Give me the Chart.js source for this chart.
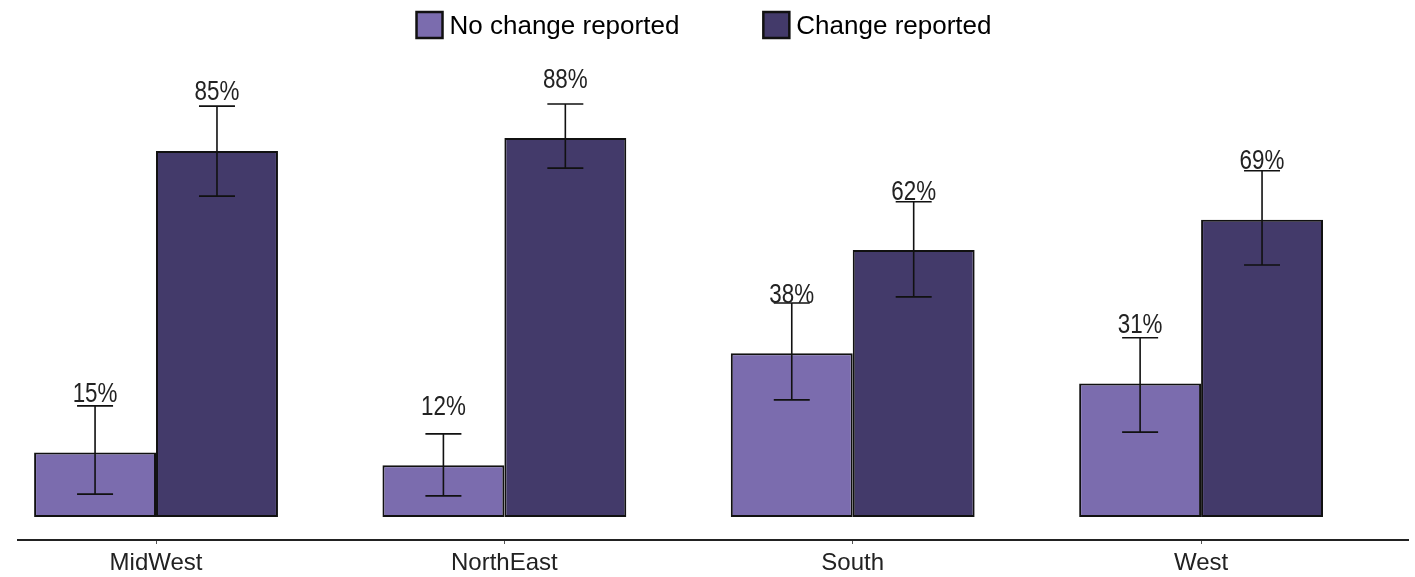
<!DOCTYPE html>
<html>
<head>
<meta charset="utf-8">
<script src="https://cdn.jsdelivr.net/npm/chart.js@4.4.1/dist/chart.umd.min.js"></script>
<style>
  body { margin: 0; background: #fff; }
  #wrap { width: 1415px; height: 577px; }
</style>
</head>
<body>
<div id="wrap"><canvas id="myChart"></canvas></div>
<script>
// regions and percentages
const regions = ['MidWest', 'NorthEast', 'South', 'West'];
const seriesNames = ['No change reported', 'Change reported'];
const noChange = [15, 12, 38, 31];
const change = [85, 88, 62, 69];
// error bar ends (%)
const noChangeLow = [5.3, 4.9, 27.2, 19.7];
const noChangeHigh = [25.8, 19.3, 49.7, 41.6];
const changeLow = [74.5, 81.0, 51.1, 58.5];
const changeHigh = [95.4, 95.9, 73.2, 80.4];

const lightPurple = '#7b6cae';
const darkPurple = '#433a6a';
const sans = '"Liberation Sans", Arial, sans-serif';

const errorBars = {
  id: 'errorBars',
  afterDatasetsDraw(chart) {
    const ctx = chart.ctx;
    const y = chart.scales.y;
    const lows = [noChangeLow, changeLow];
    const highs = [noChangeHigh, changeHigh];
    const vals = [noChange, change];
    ctx.save();
    chart.data.datasets.forEach(function (ds, d) {
      const meta = chart.getDatasetMeta(d);
      meta.data.forEach(function (bar, i) {
        const top = y.getPixelForValue(highs[d][i]);
        const bot = y.getPixelForValue(lows[d][i]);
        ctx.strokeStyle = '#111';
        ctx.lineWidth = 1.6;
        ctx.beginPath();
        ctx.moveTo(bar.x, top); ctx.lineTo(bar.x, bot);
        ctx.moveTo(bar.x - 18, top); ctx.lineTo(bar.x + 18, top);
        ctx.moveTo(bar.x - 18, bot); ctx.lineTo(bar.x + 18, bot);
        ctx.stroke();
        // narrow-looking label: squeeze a 28px face horizontally
        ctx.save();
        ctx.translate(bar.x, y.getPixelForValue(vals[d][i] + 13.5));
        ctx.scale(0.8, 1);
        ctx.fillStyle = '#222';
        ctx.font = '28px ' + sans;
        ctx.textAlign = 'center';
        ctx.textBaseline = 'middle';
        ctx.fillText(vals[d][i] + '%', 0, 0);
        ctx.restore();
      });
    });
    ctx.restore();
  }
};

// legend drawn by hand so the wide gap between the two items fits
const topLegend = {
  id: 'topLegend',
  afterDraw(chart) {
    const ctx = chart.ctx;
    const colors = [lightPurple, darkPurple];
    ctx.save();
    ctx.font = '26px ' + sans;
    const w = seriesNames.map(n => ctx.measureText(n).width);
    const box = 26, gap = 7, between = 84;
    let x = 704 - (box * 2 + gap * 2 + w[0] + w[1] + between) / 2;
    seriesNames.forEach(function (name, i) {
      ctx.fillStyle = colors[i];
      ctx.fillRect(x, 12, box, box);
      ctx.strokeStyle = '#111';
      ctx.lineWidth = 2.5;
      ctx.strokeRect(x, 12, box, box);
      ctx.fillStyle = '#000';
      ctx.textAlign = 'left';
      ctx.textBaseline = 'middle';
      ctx.fillText(name, x + box + gap, 27);
      x += box + gap + w[i] + between;
    });
    ctx.restore();
  }
};

new Chart(document.getElementById('myChart'), {
  type: 'bar',
  data: {
    datasets: [
      {
        label: seriesNames[0],
        data: regions.map((r, i) => ({ x: i, y: noChange[i] })),
        backgroundColor: lightPurple,
        borderColor: '#111',
        borderWidth: 2,
        borderSkipped: false
      },
      {
        label: seriesNames[1],
        data: regions.map((r, i) => ({ x: i, y: change[i] })),
        backgroundColor: darkPurple,
        borderColor: '#111',
        borderWidth: 2,
        borderSkipped: false
      }
    ]
  },
  options: {
    responsive: true,
    maintainAspectRatio: false,
    animation: false,
    categoryPercentage: 0.7,
    barPercentage: 1.0,
    layout: { padding: { top: 60, left: 18, right: 7, bottom: -5 } },
    plugins: {
      legend: { display: false },
      tooltip: { enabled: false }
    },
    scales: {
      x: {
        type: 'linear',
        offset: false,
        min: -0.3962,
        max: 3.594,
        afterBuildTicks: function (s) { s.ticks = regions.map((r, i) => ({ value: i })); },
        grid: { display: true, offset: false, drawOnChartArea: false, drawTicks: true, tickLength: 4, color: '#555' },
        border: { display: true, color: '#222', width: 2 },
        ticks: {
          padding: 7,
          color: '#222',
          font: { size: 24, family: sans, lineHeight: 1 },
          callback: function (v) { return regions[v]; }
        }
      },
      y: {
        display: false,
        min: -5.34,
        max: 106.1
      }
    }
  },
  plugins: [errorBars, topLegend]
});
</script>
</body>
</html>
